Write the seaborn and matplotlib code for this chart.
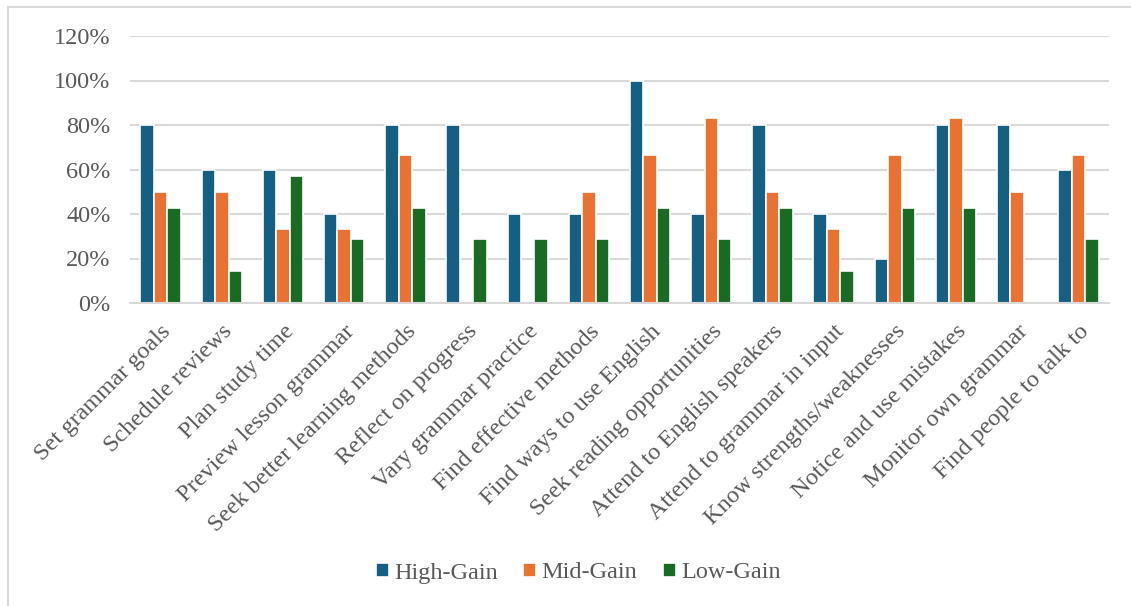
import numpy as np
import pandas as pd
import matplotlib
matplotlib.use("Agg")
import matplotlib.pyplot as plt
import seaborn as sns
from matplotlib.patches import Rectangle

strategies = [
    "Set grammar goals", "Schedule reviews", "Plan study time",
    "Preview lesson grammar", "Seek better learning methods",
    "Reflect on progress", "Vary grammar practice", "Find effective methods",
    "Find ways to use English", "Seek reading opportunities",
    "Attend to English speakers", "Attend to grammar in input",
    "Know strengths/weaknesses", "Notice and use mistakes",
    "Monitor own grammar", "Find people to talk to",
]
high_gain = [80, 60, 60, 40, 80, 80, 40, 40, 100, 40, 80, 40, 20, 80, 80, 60]
mid_gain = [50, 50, 33.3, 33.3, 66.7, 0, 0, 50, 66.7, 83.3, 50, 33.3, 66.7, 83.3, 50, 66.7]
low_gain = [42.9, 14.3, 57.1, 28.6, 42.9, 28.6, 28.6, 28.6, 42.9, 28.6, 42.9, 14.3, 42.9, 42.9, 0, 28.6]
groups = ["High-Gain", "Mid-Gain", "Low-Gain"]
colors = ["#156082", "#E97132", "#196B24"]

df = pd.DataFrame({
    "Strategy": strategies * 3,
    "Group": np.repeat(groups, len(strategies)),
    "Value": high_gain + mid_gain + low_gain,
})

sns.set_theme(style="white")
plt.rcParams["font.family"] = ["Liberation Serif", "DejaVu Serif"]

fig = plt.figure(figsize=(11.31, 6.06), dpi=100)
ax = fig.add_axes([130 / 1131, 1 - 303 / 606, (1109 - 130) / 1131, (303 - 36) / 606])

sns.barplot(data=df, x="Strategy", y="Value", hue="Group", hue_order=groups,
            palette=colors, saturation=1, width=0.66, edgecolor="white",
            linewidth=1.2, ax=ax, legend=True)

ax.set_ylim(0, 120)
ax.set_xlim(-0.5, len(strategies) - 0.5)
ax.set_yticks(range(0, 121, 20))
ax.set_yticklabels([f"{v}%" for v in range(0, 121, 20)], fontsize=17.5, color="#595959")
ax.yaxis.grid(True, color="#D9D9D9", linewidth=1.5)
ax.set_axisbelow(True)
for s in ["top", "right", "left"]:
    ax.spines[s].set_visible(False)
ax.spines["bottom"].set_color("#D9D9D9")
ax.spines["bottom"].set_linewidth(1.5)
ax.tick_params(axis="y", length=0, pad=14)
ax.tick_params(axis="x", length=0, pad=13)
ax.set_xlabel("")
ax.set_ylabel("")
ax.set_xticks(range(len(strategies)))
ax.set_xticklabels(strategies, rotation=45, ha="right", rotation_mode="anchor",
                   fontsize=17.5, color="#595959")

handles, labels = ax.get_legend_handles_labels()
ax.legend(handles, labels, loc="center", bbox_to_anchor=(578 / 1131, 1 - 573 / 606),
          bbox_transform=fig.transFigure, ncol=3, frameon=False, fontsize=17.5,
          handlelength=0.55, handleheight=0.55, handletextpad=0.2, columnspacing=1.05,
          labelcolor="#595959")

# chart-area border
fig.patches.append(Rectangle((8 / 1131, -0.05), 1.2, 1 - 7 / 606 + 0.05,
                             transform=fig.transFigure, fill=False,
                             edgecolor="#D9D9D9", linewidth=1.5))

fig.savefig("out.png", dpi=100)
